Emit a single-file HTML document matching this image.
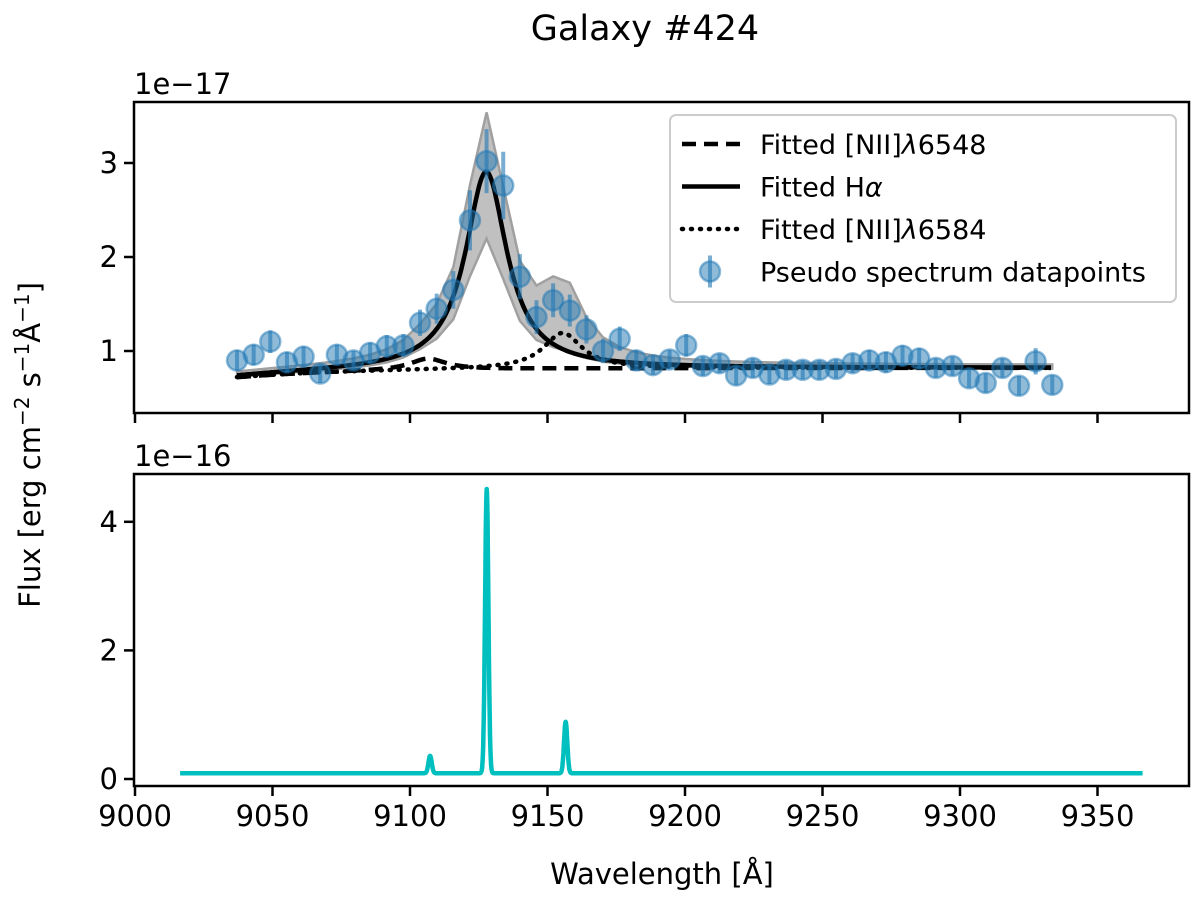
<!DOCTYPE html>
<html><head><meta charset="utf-8"><style>
body{margin:0;background:#fff;}
svg text{font-family:"DejaVu Sans","Liberation Sans",sans-serif;fill:#000;}
</style></head><body>
<svg id="fig" width="1200" height="897" viewBox="0 0 1200 897" xmlns="http://www.w3.org/2000/svg">
<text x="645" y="40" font-size="35" text-anchor="middle">Galaxy #424</text>
<text x="40" y="445" font-size="29" text-anchor="middle" transform="rotate(-90 40 445)">Flux [erg cm<tspan dy="-11" font-size="20">−2</tspan><tspan dy="11"> s</tspan><tspan dy="-11" font-size="20">−1</tspan><tspan dy="11">Å</tspan><tspan dy="-11" font-size="20">−1</tspan><tspan dy="11">]</tspan></text>
<text x="662" y="884" font-size="29" text-anchor="middle">Wavelength [Å]</text>
<text x="134" y="94" font-size="29">1e−17</text>
<text x="134" y="466" font-size="29">1e−16</text>
<g id="topPanel"></g>
<g id="botPanel"></g>
</svg>
<script>
// ---- data ----
const waveStart = 9037.1;
const waveStep = 6.05;
const fluxValues = [0.90,0.96,1.10,0.88,0.94,0.76,0.96,0.90,0.98,1.05,1.06,1.30,1.45,1.65,2.39,3.02,2.76,1.79,1.36,1.54,1.43,1.23,1.00,1.13,0.90,0.85,0.91,1.06,0.84,0.87,0.74,0.82,0.75,0.80,0.80,0.80,0.81,0.87,0.90,0.88,0.95,0.92,0.82,0.84,0.71,0.66,0.82,0.63,0.89,0.64];
const fluxErrors = [0.11,0.11,0.12,0.11,0.11,0.10,0.11,0.10,0.11,0.12,0.12,0.14,0.16,0.20,0.32,0.34,0.36,0.24,0.18,0.18,0.17,0.15,0.13,0.13,0.11,0.10,0.10,0.12,0.10,0.10,0.10,0.10,0.10,0.10,0.10,0.10,0.10,0.10,0.11,0.11,0.11,0.11,0.10,0.10,0.10,0.10,0.10,0.10,0.14,0.10];
const lineCenters = [9106.5, 9127.7, 9155.5];   // NII6548, Halpha, NII6584
const lineAmps = [0.12, 2.10, 0.38];
const lineWidths = [8.0, 9.2, 8.5];
const contLevel = 0.82, contDrop = 0.10, contScale = 45;
const bandUpperScale = [1.0, 1.25, 1.9];
const bandLowerScale = [0.5, 0.66, 0.2];
const modelAmps = [0.27, 4.42, 0.80];
const modelCenters = [9107.3, 9127.9, 9156.6];
const modelSigma = [0.6, 0.6, 0.6];
const modelBase = 0.09;
const modelRange = [9016.4, 9366.5];
const xTicks = [9000,9050,9100,9150,9200,9250,9300,9350];
const topYTicks = [1,2,3];
const botYTicks = [0,2,4];
// ---- axes ----
const L=134,R=1189, tT=102,tB=413, bT=474,bB=786;
const X=w=>135+(w-9000)*2.75;
const Yt=v=>445-v*94;
const Yb=v=>779-v*64.3;
const NS="http://www.w3.org/2000/svg";
function mk(p,tag,a){const e=document.createElementNS(NS,tag);for(const k in a)e.setAttribute(k,a[k]);p.appendChild(e);return e;}
const topG=document.getElementById('topPanel'), botG=document.getElementById('botPanel');
const lor=(w,i)=>lineAmps[i]*lineWidths[i]**2/(lineWidths[i]**2+(w-lineCenters[i])**2);
const cont=w=>contLevel-contDrop*Math.exp(-(w-waveStart)/contScale);
const waves=fluxValues.map((_,i)=>waveStart+i*waveStep);
const wEnd=waveStart+(fluxValues.length-1)*waveStep;
// band
let up=[],lo=[];
waves.forEach(w=>{let u=cont(w)+0.03,l=cont(w)-0.01;for(let i=0;i<3;i++){u+=bandUpperScale[i]*lor(w,i);l+=bandLowerScale[i]*lor(w,i);}up.push(X(w)+','+Yt(u));lo.unshift(X(w)+','+Yt(l));});
const band=mk(topG,'polygon',{points:up.concat(lo).join(' '),fill:'#bdbdbd','fill-opacity':0.95,stroke:'#a0a0a0','stroke-width':2.5});


// model curves
function curve(fn){let p=[];for(let w=waveStart;w<=wEnd+0.01;w+=0.5)p.push(X(w).toFixed(1)+','+Yt(fn(w)).toFixed(1));return p.join(' ');}
const styles=[{dash:'14,8',name:'fitted-nii-6548-line'},{dash:'',name:'fitted-halpha-line'},{dash:'1,8',name:'fitted-nii-6584-line'}];
[1,0,2].forEach(i=>{
  const a={points:curve(w=>cont(w)+lor(w,i)),fill:'none',stroke:'#000','stroke-width':4.5};
  if(styles[i].dash){a['stroke-dasharray']=styles[i].dash;}
  if(i==2)a['stroke-linecap']='round';
  const e=mk(topG,'polyline',a);
  
  
});
// datapoints
waves.forEach((w,i)=>{
  const g=mk(topG,'g',{});
  
  
  mk(g,'line',{x1:X(w),x2:X(w),y1:Yt(fluxValues[i]-fluxErrors[i]),y2:Yt(fluxValues[i]+fluxErrors[i]),stroke:'#1f77b4','stroke-opacity':0.6,'stroke-width':4});
  mk(g,'circle',{cx:X(w),cy:Yt(fluxValues[i]),r:10,fill:'#1f77b4','fill-opacity':0.5,stroke:'#1f77b4','stroke-opacity':0.5,'stroke-width':2.5});
});
// bottom model
let pts=[];
for(let w=modelRange[0];w<=modelRange[1];w+=0.1){let v=modelBase;for(let i=0;i<3;i++)v+=modelAmps[i]*Math.exp(-((w-modelCenters[i])**2)/(2*modelSigma[i]**2));pts.push(X(w).toFixed(1)+','+Yb(v).toFixed(1));}
const mline=mk(botG,'polyline',{points:pts.join(' '),fill:'none',stroke:'#00bfbf','stroke-width':4.5,'stroke-linejoin':'round'});


// frames and ticks
function frame(p,T,B,Yf,yt,labels){
  const r=mk(p,'rect',{x:L,y:T,width:R-L,height:B-T,fill:'none',stroke:'#000','stroke-width':2.5});
  
  
  xTicks.forEach(t=>{mk(p,'line',{x1:X(t),x2:X(t),y1:B,y2:B+10,stroke:'#000','stroke-width':2.5});
    if(labels){const tx=mk(p,'text',{x:X(t),y:B+40,'font-size':29,'text-anchor':'middle'});tx.textContent=t;
      
      }});
  yt.forEach(t=>{mk(p,'line',{x1:L-10,x2:L,y1:Yf(t),y2:Yf(t),stroke:'#000','stroke-width':2.5});
    const tx=mk(p,'text',{x:L-16,y:Yf(t)+10,'font-size':29,'text-anchor':'end'});tx.textContent=t;
    
    });
}
frame(topG,tT,tB,Yt,topYTicks,false);
frame(botG,bT,bB,Yb,botYTicks,true);
// legend
const lg=mk(topG,'g',{});


mk(lg,'rect',{x:670,y:115,width:506,height:187,rx:6,fill:'#fff','fill-opacity':0.8,stroke:'#ccc','stroke-width':2});
const ent=[['Fitted [NII]','6548','14,8'],['Fitted H','','solid'],['Fitted [NII]','6584','1,8'],['Pseudo spectrum datapoints','','pt']];
ent.forEach((e,i)=>{
  const y=144+i*42.5;
  const g=mk(lg,'g',{});
  
  
  if(e[2]=='pt'){mk(g,'line',{x1:710,x2:710,y1:y-16,y2:y+16,stroke:'#1f77b4','stroke-opacity':0.6,'stroke-width':4});mk(g,'circle',{cx:710,cy:y,r:10,fill:'#1f77b4','fill-opacity':0.5,stroke:'#1f77b4','stroke-opacity':0.5,'stroke-width':2.5});}
  else{const a={x1:682,x2:740,y1:y,y2:y,stroke:'#000','stroke-width':4.5};if(e[2]!='solid')a['stroke-dasharray']=e[2];if(i==2)a['stroke-linecap']='round';mk(g,'line',a);}
  const t=mk(g,'text',{x:760,y:y+10,'font-size':27});
  if(i==1){t.innerHTML='Fitted H<tspan font-style="italic">α</tspan>';}
  else if(e[1]){t.innerHTML=e[0]+'<tspan font-style="italic">λ</tspan>'+e[1];}
  else t.textContent=e[0];
});
</script>
</body></html>
